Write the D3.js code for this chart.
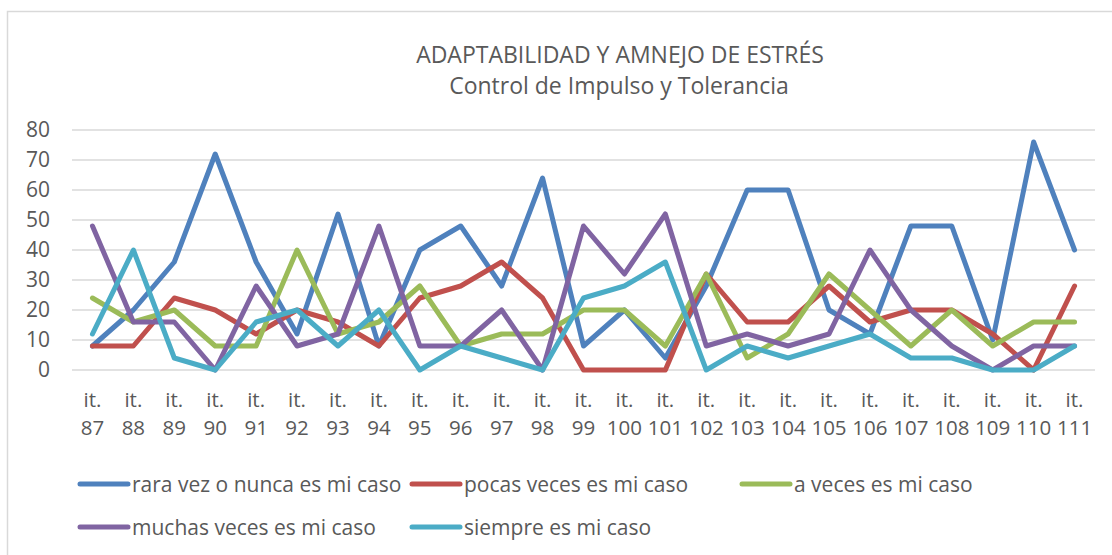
<!DOCTYPE html>
<html>
<head>
<meta charset="utf-8">
<script src="https://cdn.jsdelivr.net/npm/d3@7"></script>
<style>
  body { margin: 0; background: #fff; }
  svg { display: block; font-family: "Open Sans", "Noto Sans", sans-serif; }
</style>
</head>
<body>
<div id="chart"></div>
<script>
const width = 1112;
const height = 555;

// chart data
const items = ["87", "88", "89", "90", "91", "92", "93", "94", "95", "96", "97", "98", "99",
  "100", "101", "102", "103", "104", "105", "106", "107", "108", "109", "110", "111"];
const seriesNames = ["rara vez o nunca es mi caso", "pocas veces es mi caso", "a veces es mi caso",
  "muchas veces es mi caso", "siempre es mi caso"];
const rara = [8, 20, 36, 72, 36, 12, 52, 8, 40, 48, 28, 64, 8, 20, 4, 28, 60, 60, 20, 12, 48, 48, 10, 76, 40];
const pocas = [8, 8, 24, 20, 12, 20, 16, 8, 24, 28, 36, 24, 0, 0, 0, 32, 16, 16, 28, 16, 20, 20, 12, 0, 28];
const aveces = [24, 16, 20, 8, 8, 40, 12, 16, 28, 8, 12, 12, 20, 20, 8, 32, 4, 12, 32, 20, 8, 20, 8, 16, 16];
const muchas = [48, 16, 16, 0, 28, 8, 12, 48, 8, 8, 20, 0, 48, 32, 52, 8, 12, 8, 12, 40, 20, 8, 0, 8, 8];
const siempre = [12, 40, 4, 0, 16, 20, 8, 20, 0, 8, 4, 0, 24, 28, 36, 0, 8, 4, 8, 12, 4, 4, 0, 0, 8];
const yTicks = [0, 10, 20, 30, 40, 50, 60, 70, 80];
const colors = ["#4F81BD", "#C0504D", "#9BBB59", "#8064A2", "#4BACC6"];

const seriesValues = [rara, pocas, aveces, muchas, siempre];

const svg = d3.select("#chart")
    .append("svg")
    .attr("width", width)
    .attr("height", height);

// outer chart border (left and top only visible)
svg.append("path")
    .attr("d", "M7.5,555 V11.5 H1112")
    .attr("fill", "none")
    .attr("stroke", "#D9D9D9")
    .attr("stroke-width", 1.5);

// title
const title = svg.append("text")
    .attr("text-anchor", "middle")
    .attr("fill", "#595959")
    .attr("font-size", 23);
title.append("tspan").attr("x", 620).attr("y", 63).text("ADAPTABILIDAD Y AMNEJO DE ESTRÉS");
title.append("tspan").attr("x", 619).attr("y", 94).text("Control de Impulso y Tolerancia");

// scales
const x = d3.scaleBand()
    .domain(items)
    .range([72, 1095]);

const y = d3.scaleLinear()
    .domain([0, 80])
    .range([370, 130]);

// gridlines
svg.append("g")
    .selectAll("line")
    .data(yTicks)
    .enter()
    .append("line")
    .attr("x1", 72)
    .attr("x2", 1095)
    .attr("y1", d => y(d))
    .attr("y2", d => y(d))
    .attr("stroke", "#D9D9D9")
    .attr("stroke-width", 1.5);

// y axis labels
const yAxis = svg.append("g")
    .attr("transform", "translate(50,0)")
    .call(d3.axisLeft(y).tickValues(yTicks).tickSize(0).tickPadding(0));
yAxis.select(".domain").remove();
yAxis.selectAll("text")
    .attr("fill", "#595959")
    .attr("font-size", 21)
    .attr("font-family", "\"Open Sans\", sans-serif");

// x axis labels (two lines: "it." and number)
const xLabels = svg.append("g")
    .selectAll("text")
    .data(items)
    .enter()
    .append("text")
    .attr("text-anchor", "middle")
    .attr("fill", "#595959")
    .attr("font-size", 20.5);
xLabels.append("tspan")
    .attr("x", d => x(d) + x.bandwidth() / 2)
    .attr("y", 407)
    .text("it.");
xLabels.append("tspan")
    .attr("x", d => x(d) + x.bandwidth() / 2)
    .attr("y", 435)
    .text(d => d);

// lines
const line = d3.line()
    .x((d, i) => x(items[i]) + x.bandwidth() / 2)
    .y(d => y(d));

svg.append("g")
    .selectAll("path")
    .data(seriesValues)
    .enter()
    .append("path")
    .attr("d", d => line(d))
    .attr("fill", "none")
    .attr("stroke", (d, i) => colors[i])
    .attr("stroke-width", 5)
    .attr("stroke-linejoin", "round")
    .attr("stroke-linecap", "round");

// legend
const legendPos = [[78, 484], [410, 484], [740, 484], [78, 527], [410, 527]];
const legend = svg.append("g")
    .selectAll("g")
    .data(seriesNames)
    .enter()
    .append("g")
    .attr("transform", (d, i) => `translate(${legendPos[i][0]},${legendPos[i][1]})`);
legend.append("line")
    .attr("x1", 2)
    .attr("x2", 50)
    .attr("stroke", (d, i) => colors[i])
    .attr("stroke-width", 5)
    .attr("stroke-linecap", "round");
legend.append("text")
    .attr("x", 54)
    .attr("y", 7.5)
    .attr("fill", "#595959")
    .attr("font-size", 21)
    .text(d => d);
</script>
</body>
</html>
